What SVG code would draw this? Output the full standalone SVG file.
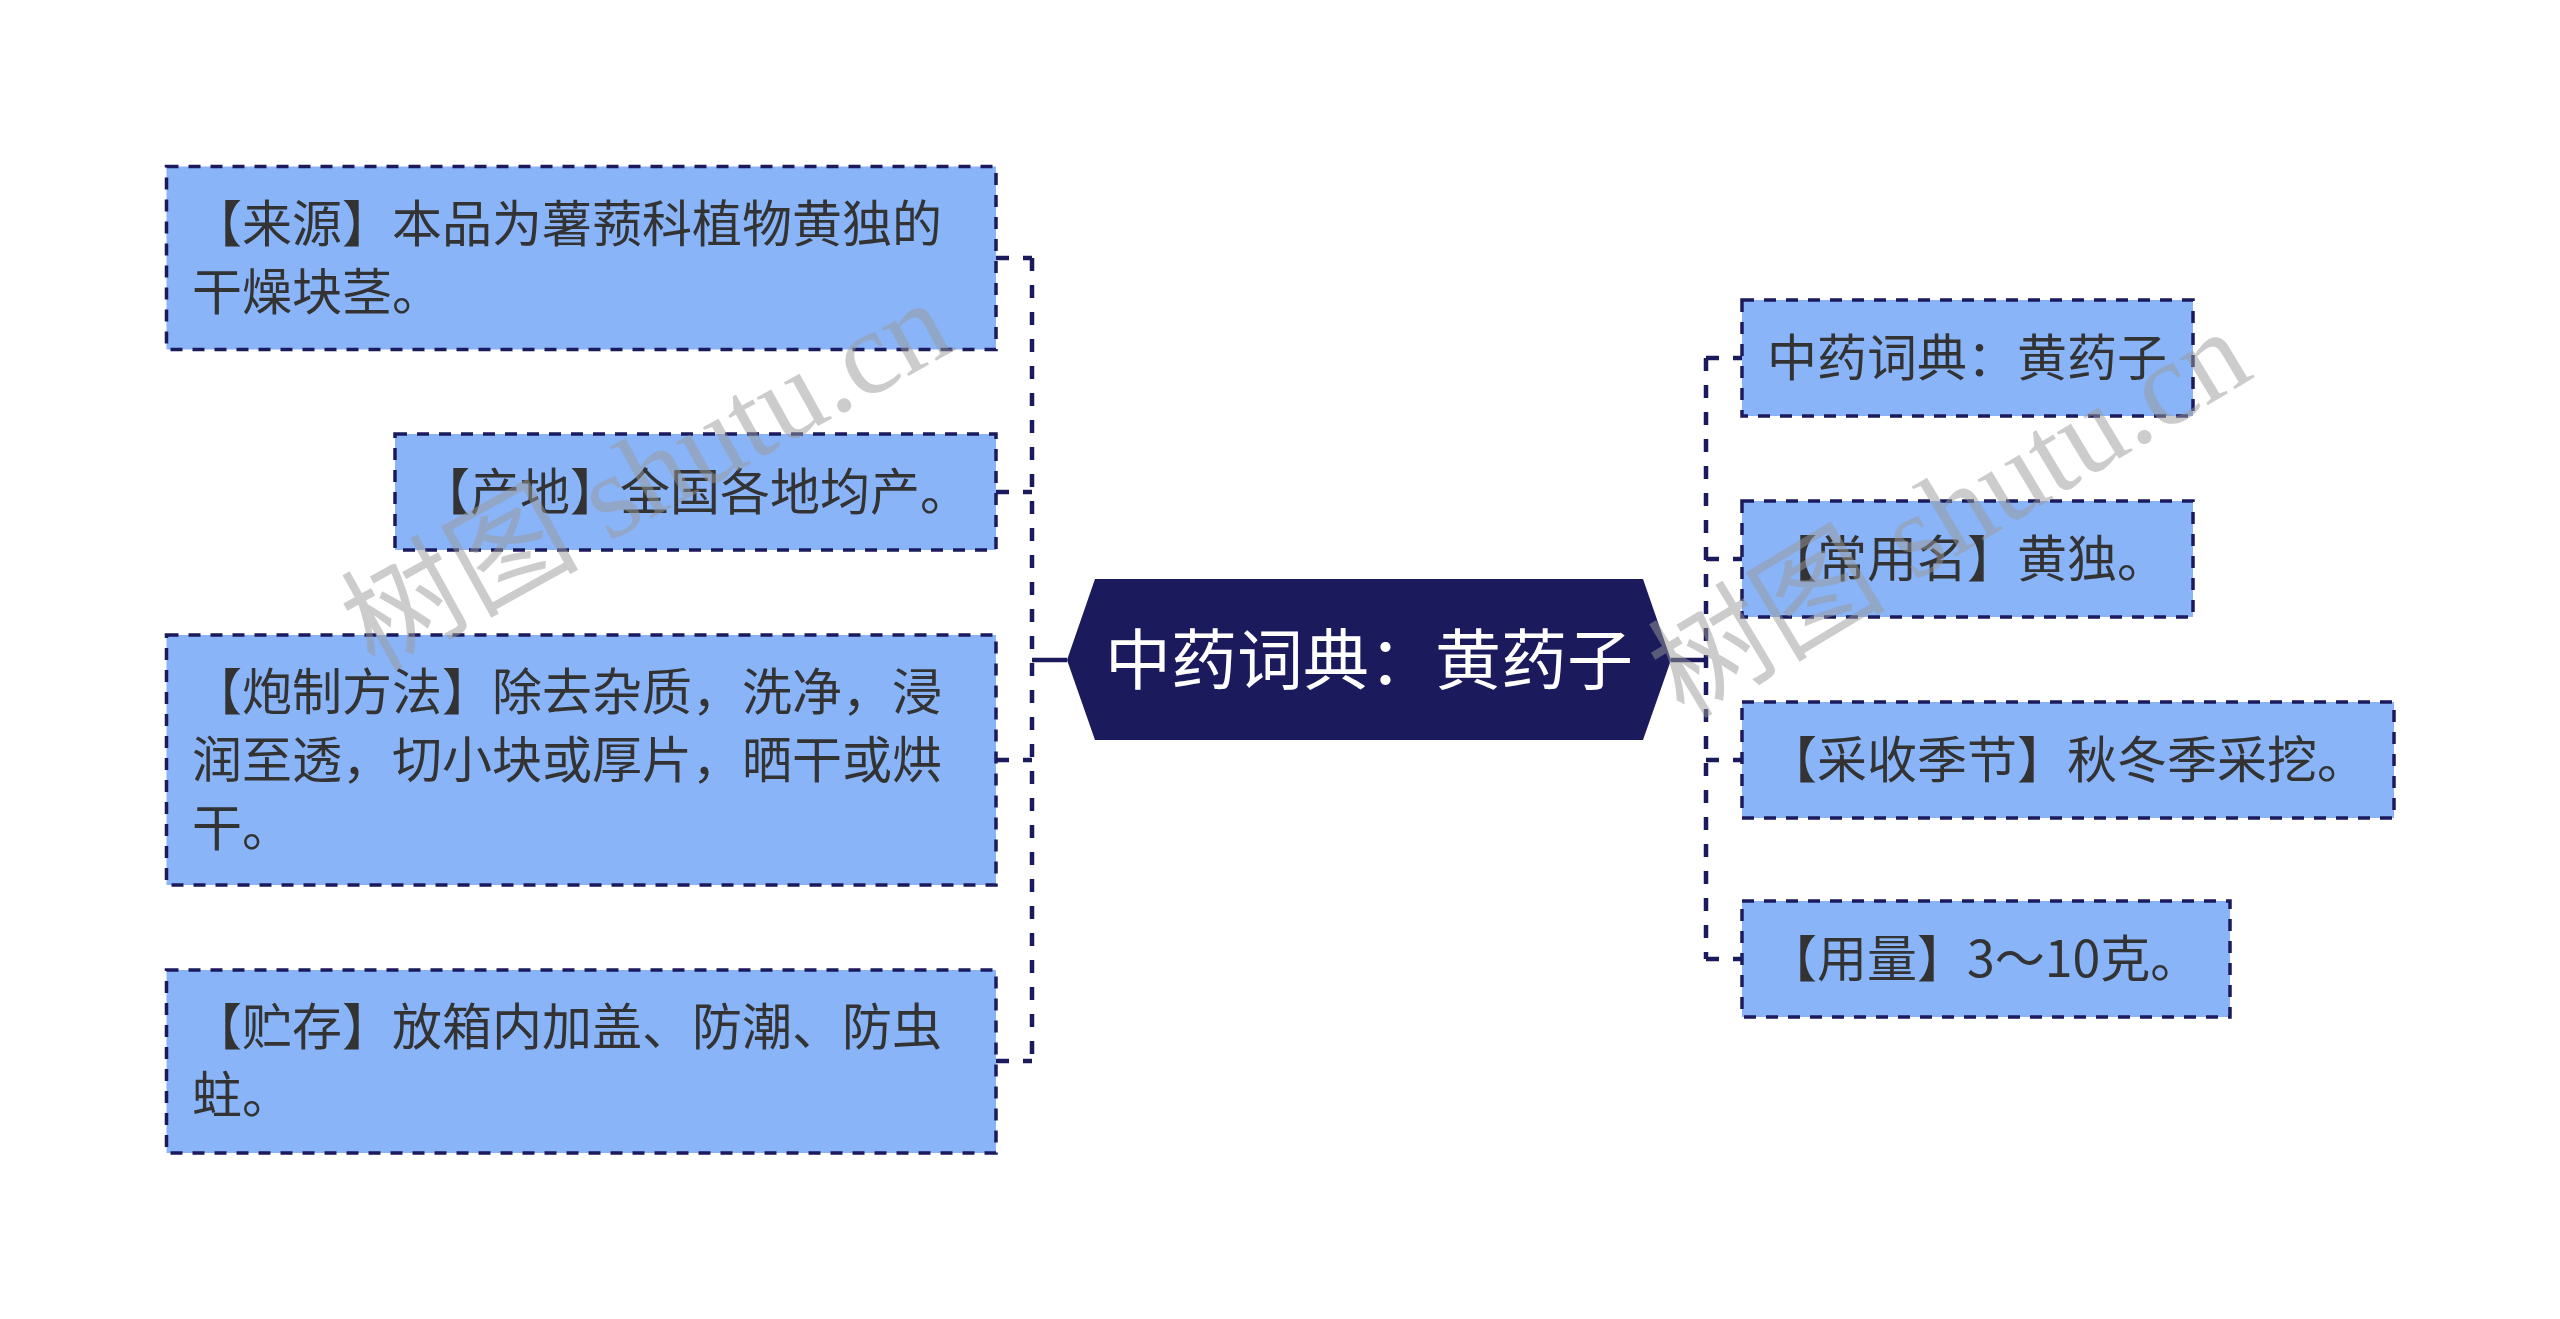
<svg xmlns="http://www.w3.org/2000/svg" width="2560" height="1319" viewBox="0 0 2560 1319">
<style>
.box{fill:#8ab4f8;stroke:#1b1a5c;stroke-width:3.5;stroke-dasharray:12 10}
.t{font-family:"Noto Sans CJK SC","Noto Sans",sans-serif;font-size:50px;fill:#333333}
.ct{font-family:"Noto Sans CJK SC","Noto Sans",sans-serif;font-size:66px;fill:#ffffff}
.link{fill:none;stroke:#1b1a5c;stroke-width:4.5;stroke-dasharray:13 14}
.solid{fill:none;stroke:#1b1a5c;stroke-width:4.5}
.wm{font-family:"Liberation Serif","Noto Sans CJK SC",serif;font-size:119px;fill:#9a9a9a;opacity:0.5}
</style>
<rect width="2560" height="1319" fill="#ffffff"/>
<g id="connectors">
<path class="solid" d="M1067 660 H1032"/>
<path class="link" d="M1032 258 V1061"/>
<path class="link" d="M996 258 H1032 M996 492 H1032 M996 760 H1032 M996 1061 H1032"/>
<path class="solid" d="M1671 660 H1706"/>
<path class="link" d="M1706 358 V959"/>
<path class="link" d="M1706 358 H1742 M1706 559 H1742 M1706 760 H1742 M1706 959 H1742"/>
</g>
<g id="center">
<polygon points="1067,660 1095,579 1643,579 1671,660 1643,740 1095,740" fill="#1b1a5c"/>
<text class="ct" x="1369" y="684" text-anchor="middle">中药词典：黄药子</text>
</g>
<g id="n-laiyuan">
<rect class="box" x="166.5" y="166.5" width="829.5" height="183"/>
<text class="t" x="192" y="242">【来源】本品为薯蓣科植物黄独的</text>
<text class="t" x="192" y="310">干燥块茎。</text>
</g>
<g id="n-chandi">
<rect class="box" x="395" y="434" width="601" height="116"/>
<text class="t" x="420" y="510">【产地】全国各地均产。</text>
</g>
<g id="n-paozhi">
<rect class="box" x="166.5" y="635" width="829.5" height="250"/>
<text class="t" x="192" y="710">【炮制方法】除去杂质，洗净，浸</text>
<text class="t" x="192" y="778">润至透，切小块或厚片，晒干或烘</text>
<text class="t" x="192" y="846">干。</text>
</g>
<g id="n-zhucun">
<rect class="box" x="166.5" y="970" width="829.5" height="183"/>
<text class="t" x="192" y="1045">【贮存】放箱内加盖、防潮、防虫</text>
<text class="t" x="192" y="1113">蛀。</text>
</g>
<g id="n-title">
<rect class="box" x="1742" y="300" width="451" height="116"/>
<text class="t" x="1767" y="376">中药词典：黄药子</text>
</g>
<g id="n-changyong">
<rect class="box" x="1742" y="501" width="451" height="116"/>
<text class="t" x="1767" y="577">【常用名】黄独。</text>
</g>
<g id="n-caishou">
<rect class="box" x="1742" y="702" width="652" height="116"/>
<text class="t" x="1767" y="778">【采收季节】秋冬季采挖。</text>
</g>
<g id="n-yongliang">
<rect class="box" x="1742" y="901" width="488" height="116"/>
<text class="t" x="1767" y="977">【用量】3～10克。</text>
</g>
<g id="watermark">
<text class="wm" transform="translate(374,672) rotate(-29)">树图 shutu.cn</text>
<text class="wm" transform="translate(1684,720) rotate(-31)">树图 shutu.cn</text>
</g>
</svg>
